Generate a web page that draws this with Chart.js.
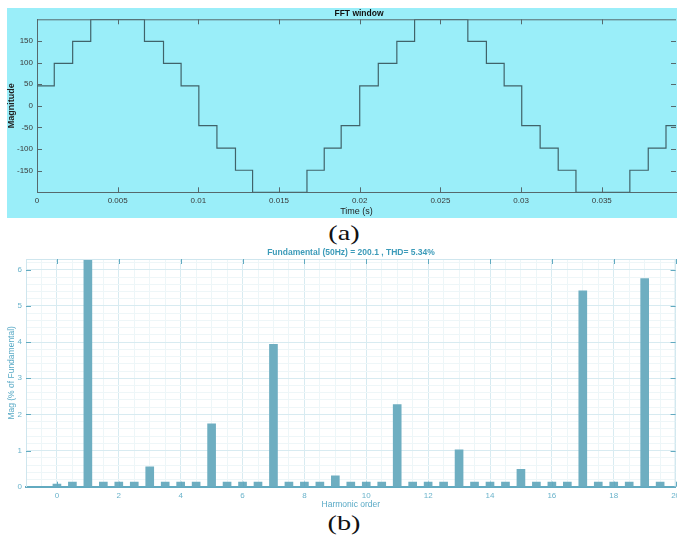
<!DOCTYPE html>
<html><head><meta charset="utf-8">
<script src="https://cdn.jsdelivr.net/npm/chart.js@4.4.1/dist/chart.umd.min.js"></script>
<style>
html,body{margin:0;padding:0;background:#fff;overflow:hidden;}
#wrap{position:relative;width:677px;height:536px;overflow:hidden;background:#fff;}
#cA{position:absolute;left:7px;top:8px;background:#9aeef9;}
#cB{position:absolute;left:0;top:243px;}
.cap{position:absolute;font-family:'Liberation Serif','Times New Roman',serif;font-size:21px;color:#111;line-height:1;white-space:nowrap;transform:translateX(-50%) scaleX(1.35);}
</style></head>
<body>
<div id="wrap">
<canvas id="cA" width="704" height="210"></canvas>
<div class="cap" style="left:344px;top:223px;">(a)</div>
<canvas id="cB" width="702" height="268"></canvas>
<div class="cap" style="left:344px;top:513px;">(b)</div>
</div>
<script>
// ---- data (a): staircase waveform, time in s, magnitude ----
const waveTimes = [0, 0.00107, 0.00221, 0.00333, 0.00666, 0.00784, 0.00893,
  0.01003, 0.01115, 0.0123, 0.01336, 0.01673, 0.0178, 0.01885,
  0.0200, 0.02115, 0.0223, 0.0234, 0.0267, 0.02785, 0.02895,
  0.03004, 0.03118, 0.0323, 0.0334, 0.03674, 0.03788, 0.03898, 0.0396];
const waveLevels = [46, 98, 149, 200, 149, 98, 46,
  -46, -98, -149, -200, -149, -98, -46,
  46, 98, 149, 200, 149, 98, 46,
  -46, -98, -149, -200, -149, -98, -46, -46];

// ---- data (b): harmonic spectrum ----
const harmonicOrder = [0, 0.5, 1, 1.5, 2, 2.5, 3, 3.5, 4, 4.5, 5, 5.5, 6, 6.5, 7, 7.5, 8, 8.5, 9, 9.5,
  10, 10.5, 11, 11.5, 12, 12.5, 13, 13.5, 14, 14.5, 15, 15.5, 16, 16.5, 17, 17.5, 18, 18.5, 19, 19.5];
const harmonicMag = [0.07, 0.13, 100, 0.13, 0.13, 0.13, 0.55, 0.13, 0.13, 0.13, 1.74, 0.13, 0.13, 0.13, 3.94, 0.13, 0.13, 0.13, 0.30, 0.13,
  0.13, 0.13, 2.27, 0.13, 0.13, 0.13, 1.02, 0.13, 0.13, 0.13, 0.48, 0.13, 0.13, 0.13, 5.42, 0.13, 0.13, 0.13, 5.76, 0.13];

const titleA = 'FFT window';
const titleB = 'Fundamental (50Hz) = 200.1 , THD= 5.34%';

const FF = "'Liberation Sans', Arial, Helvetica, sans-serif";

function frame(id, color, borderColor, len, drawTopRight) {
  return {
    id,
    afterDraw(chart) {
      const {ctx, chartArea: a, scales} = chart;
      ctx.save();
      ctx.lineWidth = 1;
      if (drawTopRight) {
        ctx.strokeStyle = borderColor;
        ctx.beginPath();
        ctx.moveTo(a.left, a.top + 0.5); ctx.lineTo(a.right, a.top + 0.5);
        if (drawTopRight === 2) { ctx.moveTo(a.right - 0.5, a.top); ctx.lineTo(a.right - 0.5, a.bottom); }
        ctx.stroke();
      }
      ctx.strokeStyle = color;
      ctx.beginPath();
      scales.x.ticks.forEach(t => {
        const px = Math.round(scales.x.getPixelForValue(t.value)) + 0.5;
        ctx.moveTo(px, a.top); ctx.lineTo(px, a.top + len);
        ctx.moveTo(px, a.bottom); ctx.lineTo(px, a.bottom - len);
      });
      scales.y.ticks.forEach(t => {
        const py = Math.round(scales.y.getPixelForValue(t.value)) + 0.5;
        ctx.moveTo(a.left, py); ctx.lineTo(a.left + len, py);
        ctx.moveTo(a.right, py); ctx.lineTo(a.right - len, py);
      });
      ctx.stroke();
      ctx.restore();
    }
  };
}

new Chart(document.getElementById('cA'), {
  type: 'line',
  data: { datasets: [{
    data: waveTimes.map((t, i) => ({x: t, y: waveLevels[i]})),
    borderColor: '#40636a', borderWidth: 1.2, pointRadius: 0, stepped: true, fill: false
  }]},
  options: {
    responsive: false, animation: false, events: [],
    layout: {padding: 0},
    plugins: {
      legend: {display: false}, tooltip: {enabled: false},
      title: {display: true, text: titleA, color: '#111',
        font: {family: FF, size: 8.5, weight: 'bold', lineHeight: 1.2}, padding: {top: 1, bottom: 0.1}}
    },
    scales: {
      x: {type: 'linear', min: 0, max: 0.0396,
        afterFit(s) { s.height = 25.7; },
        ticks: {stepSize: 0.005, includeBounds: false, color: '#3a3a3a', font: {family: FF, size: 8}, padding: 4,
          maxRotation: 0, autoSkip: false, callback: v => String(+Number(v).toFixed(4))},
        grid: {display: false, drawTicks: false},
        border: {display: true, color: '#56696d', width: 1},
        title: {display: true, text: 'Time (s)', color: '#222', font: {family: FF, size: 9, lineHeight: 1.2}, padding: {top: 0, bottom: 0.9}}
      },
      y: {type: 'linear', min: -200, max: 200,
        afterFit(s) { s.width = 30; },
        afterBuildTicks(s) { s.ticks = s.ticks.filter(t => Math.abs(t.value) < 199); },
        ticks: {stepSize: 50, color: '#3a3a3a', font: {family: FF, size: 8}, padding: 4},
        grid: {display: false, drawTicks: false},
        border: {display: true, color: '#56696d', width: 1},
        title: {display: true, text: 'Magnitude', color: '#222', font: {family: FF, size: 9, weight: 'bold', lineHeight: 1}, padding: {top: 0, bottom: 0}}
      },
      yR: {type: 'linear', position: 'right', min: -200, max: 200,
        afterFit(s) { s.width = 35; },
        ticks: {display: false}, grid: {display: false, drawTicks: false}, border: {display: false}
      }
    }
  },
  plugins: [frame('frameA', '#56696d', '#56696d', 5, 1)]
});

const minorX = c => (Math.abs(c.tick.value / 2 - Math.round(c.tick.value / 2)) < 1e-6) ? 'rgba(0,0,0,0)' : '#edf6f8';
const minorY = c => (Math.abs(c.tick.value - Math.round(c.tick.value)) < 1e-6) ? 'rgba(0,0,0,0)' : '#eef6f8';

new Chart(document.getElementById('cB'), {
  type: 'bar',
  data: { datasets: [{
    data: harmonicOrder.map((h, i) => ({x: h, y: harmonicMag[i]})),
    backgroundColor: '#6eaec1', borderWidth: 0, barThickness: 8
  }]},
  options: {
    responsive: false, animation: false, events: [],
    layout: {padding: 0},
    plugins: {
      legend: {display: false}, tooltip: {enabled: false},
      title: {display: true, text: titleB, color: '#3c9bb9',
        font: {family: FF, size: 8.5, weight: 'bold', lineHeight: 1.2}, padding: {top: 5, bottom: 0.8}}
    },
    scales: {
      x: {type: 'linear', position: 'bottom', min: -1, max: 20, offset: false,
        afterFit(s) { s.height = 24.3; },
        ticks: {stepSize: 2, includeBounds: false, color: '#6ab3cb', font: {family: FF, size: 8}, padding: 4, maxRotation: 0, autoSkip: false},
        grid: {color: '#d8ebf1', drawTicks: false, offset: false},
        border: {color: '#62aac0', width: 2},
        title: {display: true, text: 'Harmonic order', color: '#5aaac6', font: {family: FF, size: 8.5, lineHeight: 1.2}, padding: {top: 0, bottom: 0.9}}
      },
      xm: {type: 'linear', position: 'top', min: -1, max: 20, offset: false,
        afterFit(s) { s.height = 0; },
        ticks: {display: false, stepSize: 0.5, includeBounds: false},
        grid: {color: minorX, drawTicks: false, offset: false}, border: {display: false}
      },
      y: {type: 'linear', min: 0, max: 6.3,
        afterFit(s) { s.width = 26; },
        ticks: {stepSize: 1, includeBounds: false, color: '#6ab3cb', font: {family: FF, size: 8}, padding: 4},
        grid: {color: '#d8ebf1', drawTicks: false},
        border: {color: '#cfe6ee', width: 1},
        title: {display: true, text: 'Mag (% of Fundamental)', color: '#5aaac6', font: {family: FF, size: 8.5, lineHeight: 1.2}, padding: {top: 7, bottom: 0}}
      },
      ym: {type: 'linear', position: 'right', min: 0, max: 6.3,
        afterFit(s) { s.width = 26.4; },
        ticks: {display: false, stepSize: 0.2, includeBounds: false},
        grid: {color: minorY, drawTicks: false}, border: {display: false}
      }
    }
  },
  plugins: [frame('frameB', '#62aac0', '#cfe6ee', 5, 2)]
});
</script>
</body></html>
